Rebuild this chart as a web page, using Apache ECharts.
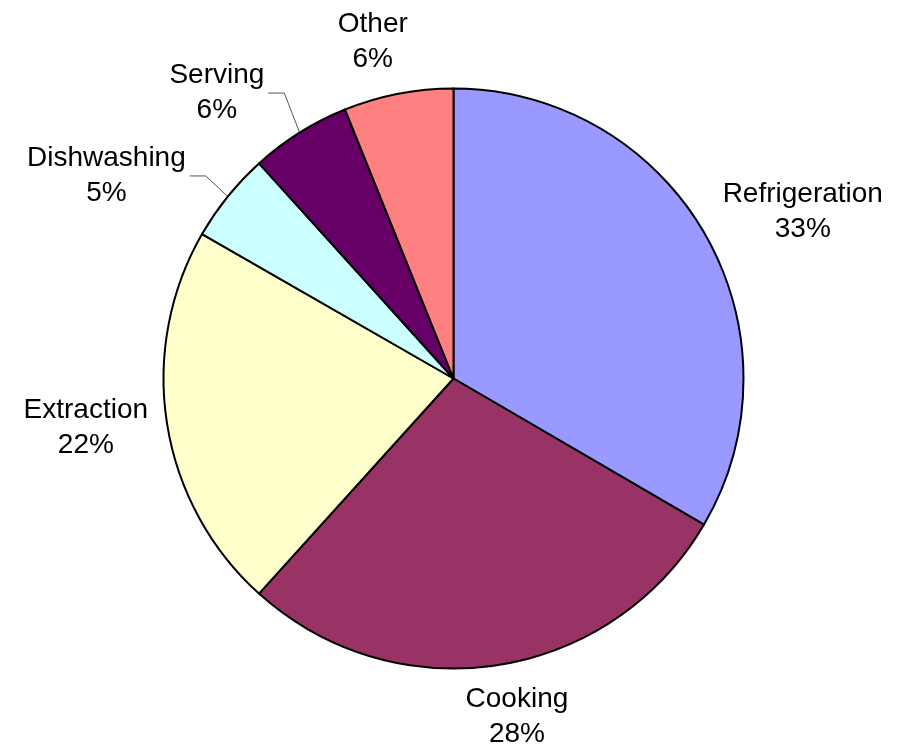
<!DOCTYPE html>
<html>
	<head>
		<meta charset="UTF-8" />
		<title>Energy use pie</title>
		<style>
			html, body { margin: 0; padding: 0; background: #fff; }
			#pic { width: 904px; height: 749px; }
		</style>
	</head>
	<body>
		<div id="pic"></div>
		<script src="https://cdn.jsdelivr.net/npm/echarts@6/dist/echarts.min.js"></script>
		<script>
			// data
			var names = ['Refrigeration', 'Cooking', 'Extraction', 'Dishwashing', 'Serving', 'Other'];
			var values = [33.4, 28.3, 21.6, 5.0, 5.6, 6.1];
			var colors = ['#9999FF', '#993366', '#FFFFCC', '#CCFFFF', '#660066', '#FF8080'];

			// label placement (excel style: box just outside the rim, some moved by hand)
			var leader = [false, false, false, true, true, false];
			var nudge = [[11, 5], [8, -3], [0, -5], [-44, 14], [-47, 7], [-15, 2]];
			var cx = 453.5, cy = 378.5, R = 290, gap = 20;

			var total = 0;
			for (var i = 0; i < values.length; i++) total += values[i];

			var data = [];
			for (var i = 0; i < names.length; i++) {
				data.push({
					name: names[i],
					value: values[i],
					itemStyle: { color: colors[i] },
					labelLine: { show: leader[i] }
				});
			}

			var myChart = echarts.init(document.getElementById('pic'));
			myChart.setOption({
				animation: false,
				backgroundColor: '#ffffff',
				series: [{
					type: 'pie',
					center: [cx, cy],
					radius: R,
					startAngle: 90,
					clockwise: true,
					percentPrecision: 0,
					data: data,
					itemStyle: {
						borderColor: '#000',
						borderWidth: 2
					},
					label: {
						position: 'outside',
						alignTo: 'none',
						overflow: 'none',
						formatter: '{b}\n{d}%',
						fontFamily: 'Liberation Sans, Arial, sans-serif',
						fontSize: 28,
						lineHeight: 35,
						color: '#000'
					},
					labelLine: {
						show: false,
						lineStyle: { color: '#555', width: 1 }
					},
					labelLayout: function (p) {
						var k = p.dataIndex;
						var before = 0;
						for (var j = 0; j < k; j++) before += values[j];
						var mid = (before + values[k] / 2) / total * Math.PI * 2;
						var dx = Math.sin(mid), dy = -Math.cos(mid);
						var w = p.labelRect.width, h = p.labelRect.height;
						var x = cx + dx * (R + gap + w / 2) + nudge[k][0];
						var y = cy + dy * (R + gap + h / 2) + nudge[k][1];
						var res = { x: x, y: y, align: 'center', verticalAlign: 'middle' };
						if (leader[k]) {
							// leader from the rim to the side of the moved label
							var p0 = [cx + dx * R, cy + dy * R];
							var p2 = [x + w / 2 + 4, y];
							var p1 = [p2[0] + 16, y];
							res.labelLinePoints = [p0, p1, p2];
						}
						return res;
					}
				}]
			});
		</script>
	</body>
</html>
